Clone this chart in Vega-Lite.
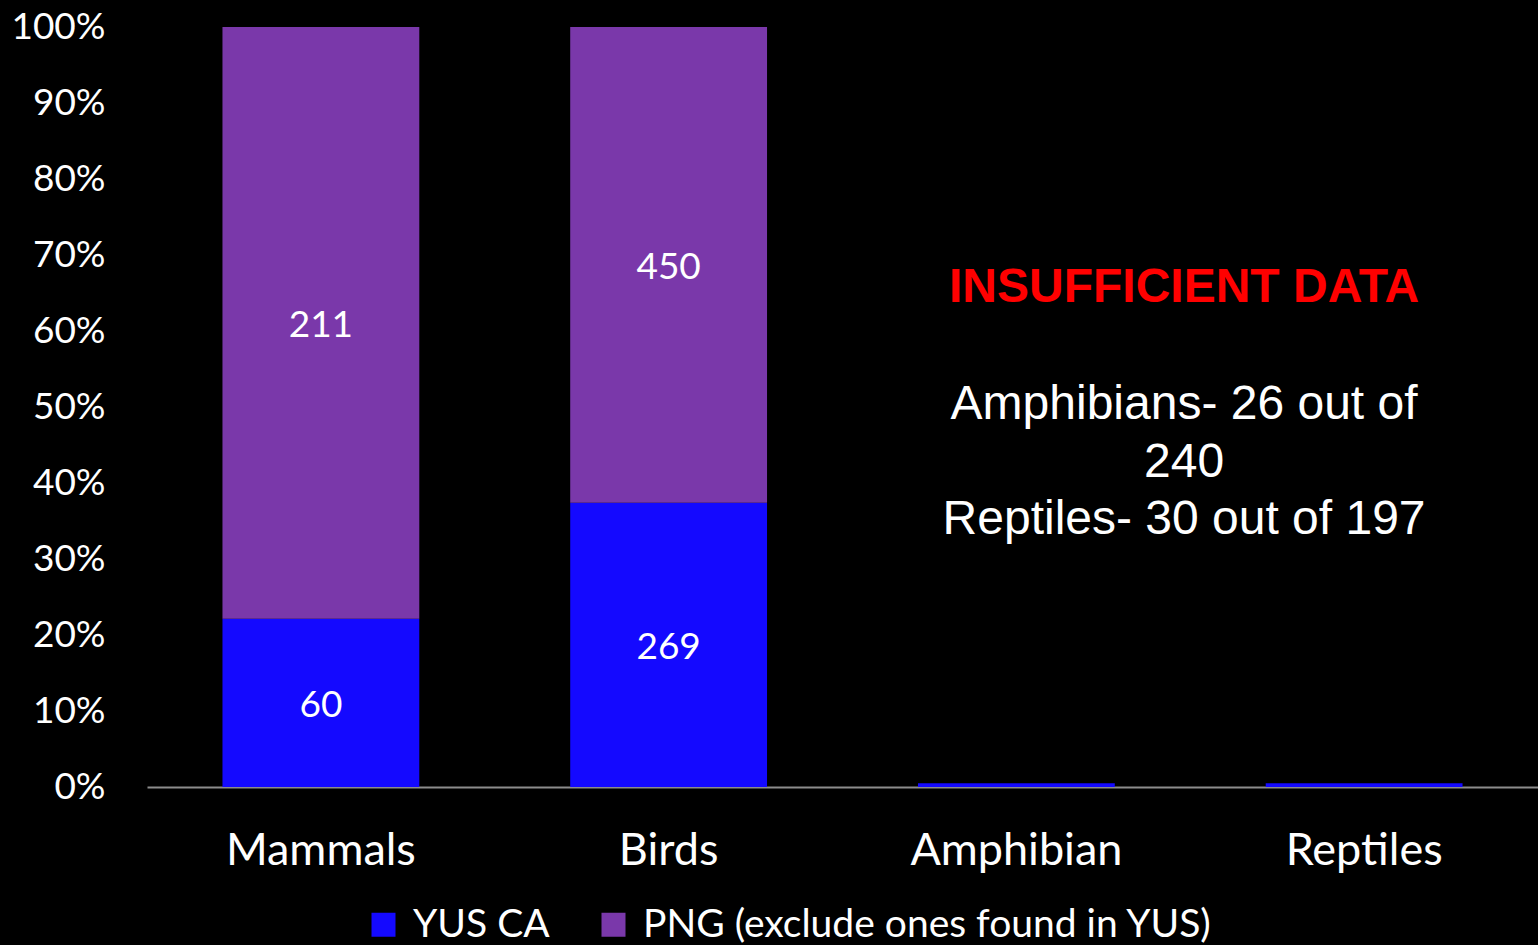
{
  "$schema": "https://vega.github.io/schema/vega-lite/v6.json",
  "width": 1391,
  "height": 760,
  "autosize": {"type": "none"},
  "padding": {"left": 147, "top": 27, "right": 0, "bottom": 158},
  "background": "black",
  "config": {
    "view": {"stroke": null},
    "font": "Lato"
  },
  "datasets": {
    "counts": [
      {"animal": "Mammals", "group": "YUS CA", "order": 1, "count": 60},
      {"animal": "Mammals", "group": "PNG (exclude ones found in YUS)", "order": 2, "count": 211},
      {"animal": "Birds", "group": "YUS CA", "order": 1, "count": 269},
      {"animal": "Birds", "group": "PNG (exclude ones found in YUS)", "order": 2, "count": 450}
    ],
    "insufficient": [
      {"animal": "Amphibian", "group": "YUS CA"},
      {"animal": "Reptiles", "group": "YUS CA"}
    ]
  },
  "layer": [
    {
      "data": {"name": "counts"},
      "mark": {"type": "bar"},
      "encoding": {
        "x": {
          "field": "animal", "type": "nominal",
          "scale": {"domain": ["Mammals", "Birds", "Amphibian", "Reptiles"], "paddingInner": 0.434, "paddingOuter": 0.217},
          "title": null,
          "axis": {"labelColor": "white", "labelFontSize": 45, "labelFont": "Lato", "labelPadding": 41, "labelAngle": 0, "labelLimit": 1000, "domainColor": "#8c8c8c", "domainWidth": 2, "ticks": false, "grid": false}
        },
        "y": {
          "field": "count", "type": "quantitative", "stack": "normalize",
          "scale": {"domain": [0, 1], "nice": false}, "title": null,
          "axis": {"labelColor": "white", "labelFontSize": 37, "labelFont": "Lato", "labelPadding": 42, "domain": false, "ticks": false, "grid": false, "format": ".0%", "values": [0, 0.1, 0.2, 0.3, 0.4, 0.5, 0.6, 0.7, 0.8, 0.9, 1]}
        },
        "order": {"field": "order", "type": "quantitative", "sort": "ascending"},
        "color": {
          "field": "group", "type": "nominal",
          "scale": {"domain": ["YUS CA", "PNG (exclude ones found in YUS)"], "range": ["#1409ff", "#7a38aa"]},
          "legend": {"orient": "none", "legendX": 217, "legendY": 878, "direction": "horizontal", "title": null, "symbolType": "square", "symbolSize": 576, "symbolStrokeWidth": 0, "labelColor": "white", "labelFontSize": 39, "labelFont": "Lato", "labelOffset": 10, "columnPadding": 44, "labelLimit": 1000}
        }
      }
    },
    {
      "data": {"name": "insufficient"},
      "mark": {"type": "bar", "color": "#1409ff"},
      "encoding": {
        "x": {"field": "animal", "type": "nominal"},
        "y": {"datum": 0},
        "y2": {"datum": 0.005}
      }
    },
    {
      "data": {"name": "counts"},
      "transform": [
        {"stack": "count", "groupby": ["animal"], "sort": [{"field": "order", "order": "ascending"}], "offset": "normalize", "as": ["y0", "y1"]},
        {"fold": ["y0", "y1"], "as": ["k", "v"]},
        {"aggregate": [{"op": "mean", "field": "v", "as": "mid"}], "groupby": ["animal", "count"]}
      ],
      "mark": {"type": "text", "color": "white", "fontSize": 37, "font": "Lato", "baseline": "middle", "align": "center", "dy": 3},
      "encoding": {
        "x": {"field": "animal", "type": "nominal"},
        "y": {"field": "mid", "type": "quantitative"},
        "text": {"field": "count", "type": "quantitative"}
      }
    },
    {
      "data": {"values": [{}]},
      "mark": {"type": "text", "text": "INSUFFICIENT DATA", "color": "#ff0000", "fontSize": 48, "fontWeight": "bold", "font": "Liberation Sans", "baseline": "middle", "align": "center"},
      "encoding": {
        "x": {"datum": "Amphibian", "bandPosition": 1.352},
        "y": {"datum": 0.657}
      }
    },
    {
      "data": {"values": [{}]},
      "mark": {"type": "text", "text": ["Amphibians- 26 out of", "240", "Reptiles- 30 out of 197"], "lineHeight": 57.5, "color": "white", "fontSize": 48, "font": "Liberation Sans", "baseline": "middle", "align": "center"},
      "encoding": {
        "x": {"datum": "Amphibian", "bandPosition": 1.352},
        "y": {"datum": 0.502}
      }
    }
  ]
}
